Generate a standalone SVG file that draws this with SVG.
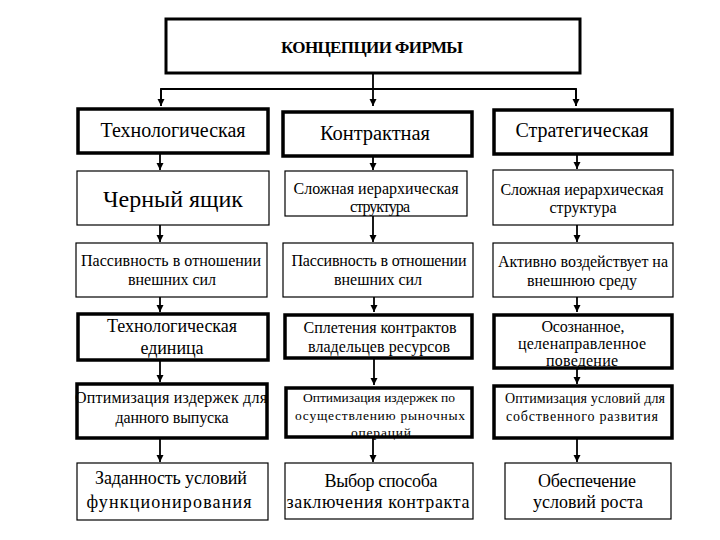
<svg xmlns="http://www.w3.org/2000/svg" width="720" height="540" viewBox="0 0 720 540">
<defs>
<marker id="ah" viewBox="0 0 10 10" refX="10" refY="5" markerWidth="4" markerHeight="4" orient="auto" markerUnits="strokeWidth">
<path d="M0,0 L10,5 L0,10 z" fill="#000"/>
</marker>
<style>
.thin{fill:#fff;stroke:#000;stroke-width:1.2}
.thick{fill:#fff;stroke:#000;stroke-width:3.5}
text{font-family:'Liberation Serif','DejaVu Serif',serif;fill:#000;text-anchor:middle}
.c{fill:none;stroke:#000;stroke-width:1.8}
</style>
</defs>
<rect width="720" height="540" fill="#fff"/>
<g id="connectors">
<path class="c" d="M373,73 V106" marker-end="url(#ah)"/>
<path class="c" d="M161,106 V89 H576 V106" fill="none"/>
<path class="c" d="M161,89 V106" marker-end="url(#ah)"/>
<path class="c" d="M576,89 V106" marker-end="url(#ah)"/>
<path class="c" d="M160,153 V170" marker-end="url(#ah)"/>
<path class="c" d="M373,156 V170" marker-end="url(#ah)"/>
<path class="c" d="M577,154 V169" marker-end="url(#ah)"/>
<path class="c" d="M160,225 V242" marker-end="url(#ah)"/>
<path class="c" d="M373,216 V242" marker-end="url(#ah)"/>
<path class="c" d="M577,225 V242" marker-end="url(#ah)"/>
<path class="c" d="M160,297 V312" marker-end="url(#ah)"/>
<path class="c" d="M374,297 V312" marker-end="url(#ah)"/>
<path class="c" d="M577,297 V312" marker-end="url(#ah)"/>
<path class="c" d="M160,360 V382" marker-end="url(#ah)"/>
<path class="c" d="M374,358 V385" marker-end="url(#ah)"/>
<path class="c" d="M577,368 V384" marker-end="url(#ah)"/>
<path class="c" d="M160,438 V462" marker-end="url(#ah)"/>
<path class="c" d="M373,437 V462" marker-end="url(#ah)"/>
<path class="c" d="M577,438 V462" marker-end="url(#ah)"/>
</g>
<g id="root"><rect class="thick" x="166" y="19" width="414" height="54" style="stroke-width:3"/><text x="372" y="53" font-size="17" font-weight="bold" textLength="182">КОНЦЕПЦИИ ФИРМЫ</text></g>
<g id="n11"><rect class="thick" x="78" y="109" width="190" height="44"/><text x="173" y="137" font-size="20" textLength="145">Технологическая</text></g>
<g id="n12"><rect class="thick" x="283" y="112" width="189" height="44"/><text x="375" y="140" font-size="20.5" textLength="110">Контрактная</text></g>
<g id="n13"><rect class="thick" x="494" y="110" width="178" height="44"/><text x="582" y="137" font-size="20" textLength="133">Стратегическая</text></g>
<g id="n21"><rect class="thin" x="77" y="171" width="192" height="54"/><text x="173" y="207" font-size="24" textLength="140">Черный ящик</text></g>
<g id="n22"><rect class="thin" x="285" y="171" width="182" height="45"/><text x="376" y="194" font-size="16" textLength="165">Сложная иерархическая</text><text x="380" y="212" font-size="16" textLength="60">структура</text></g>
<g id="n23"><rect class="thin" x="493" y="170" width="180" height="55"/><text x="582" y="195" font-size="16" textLength="163">Сложная иерархическая</text><text x="583" y="213" font-size="16" textLength="67">структура</text></g>
<g id="n31"><rect class="thin" x="76" y="243" width="191" height="54"/><text x="171" y="266" font-size="16" textLength="180">Пассивность в отношении</text><text x="172" y="285" font-size="16" textLength="88">внешних сил</text></g>
<g id="n32"><rect class="thin" x="283" y="243" width="190" height="54"/><text x="379" y="266" font-size="16" textLength="175">Пассивность в отношении</text><text x="378" y="285" font-size="16" textLength="88">внешних сил</text></g>
<g id="n33"><rect class="thin" x="493" y="243" width="180" height="54"/><text x="583" y="267" font-size="16" textLength="170">Активно воздействует на</text><text x="582" y="286" font-size="16" textLength="110">внешнюю среду</text></g>
<g id="n41"><rect class="thick" x="78" y="314" width="190" height="46"/><text x="172" y="332" font-size="18" textLength="130">Технологическая</text><text x="172" y="354" font-size="18" textLength="63">единица</text></g>
<g id="n42"><rect class="thick" x="285" y="315" width="187" height="43"/><text x="380" y="333" font-size="16" textLength="153">Сплетения контрактов</text><text x="379" y="352" font-size="16" textLength="142">владельцев ресурсов</text></g>
<g id="n43"><rect class="thick" x="494" y="315" width="178" height="53"/><text x="583" y="332" font-size="16" textLength="83">Осознанное,</text><text x="582" y="349" font-size="16" textLength="128">целенаправленное</text><text x="582" y="366" font-size="16" textLength="72">поведение</text></g>
<g id="n51"><rect class="thick" x="77" y="384" width="190" height="54"/><text x="171" y="403" font-size="16" textLength="192">Оптимизация издержек для</text><text x="172" y="423" font-size="16" textLength="113">данного выпуска</text></g>
<g id="n52"><rect class="thick" x="286" y="388" width="186" height="49"/><text x="379" y="402" font-size="13.5" textLength="152">Оптимизация издержек по</text><text x="380" y="420" font-size="13.5" textLength="170">осуществлению рыночных</text><text x="381" y="437" font-size="13.5" textLength="60">операций</text></g>
<g id="n53"><rect class="thick" x="494" y="386" width="178" height="52"/><text x="585" y="403" font-size="14" textLength="160">Оптимизация условий для</text><text x="582" y="421" font-size="14" textLength="152">собственного развития</text></g>
<g id="n61"><rect class="thin" x="77" y="463" width="191" height="57"/><text x="171" y="484" font-size="18" textLength="152">Заданность условий</text><text x="169" y="508" font-size="18" textLength="165">функционирования</text></g>
<g id="n62"><rect class="thin" x="285" y="463" width="188" height="56"/><text x="381" y="487" font-size="18" textLength="113">Выбор способа</text><text x="378" y="508" font-size="18" textLength="183">заключения контракта</text></g>
<g id="n63"><rect class="thin" x="505" y="463" width="166" height="56"/><text x="587" y="487" font-size="18" textLength="98">Обеспечение</text><text x="588" y="508" font-size="18" textLength="110">условий роста</text></g>
</svg>
